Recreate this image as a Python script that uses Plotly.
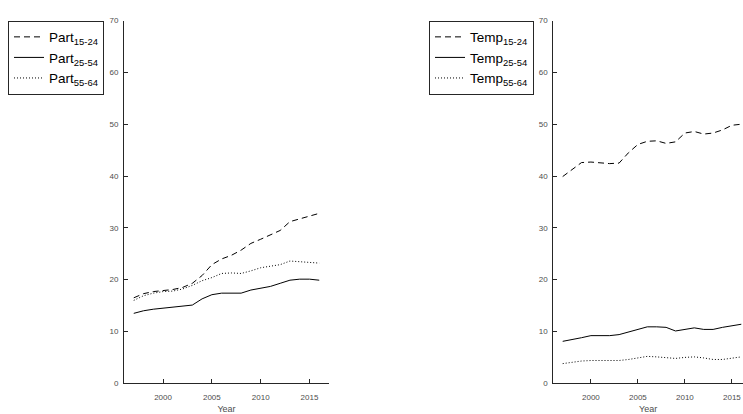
import plotly.graph_objects as go

years = list(range(1997, 2017))

part_15_24 = [16.5, 17.3, 17.7, 17.9, 18.1, 18.5, 19.3, 20.8, 22.9, 24.0, 24.7, 25.7, 27.0, 27.8, 28.6, 29.5, 31.2, 31.7, 32.3, 32.8]
part_25_54 = [13.5, 14.0, 14.3, 14.5, 14.6, 14.8, 15.1, 16.3, 17.1, 17.4, 17.4, 17.4, 18.0, 18.4, 18.7, 19.3, 19.9, 20.1, 20.1, 19.9]
part_55_64 = [16.0, 16.9, 17.4, 17.7, 17.8, 18.2, 18.9, 19.8, 20.4, 21.2, 21.3, 21.2, 21.7, 22.3, 22.6, 22.9, 23.6, 23.5, 23.3, 23.2]

temp_15_24 = [39.9, 41.2, 42.6, 42.7, 42.6, 42.4, 42.5, 44.5, 46.1, 46.7, 46.8, 46.3, 46.6, 48.3, 48.6, 48.1, 48.3, 48.9, 49.8, 50.0]
temp_25_54 = [8.1, 8.4, 8.8, 9.2, 9.2, 9.2, 9.4, 9.9, 10.4, 10.9, 10.9, 10.8, 10.1, 10.4, 10.7, 10.4, 10.4, 10.8, 11.1, 11.4]
temp_55_64 = [3.8, 4.1, 4.3, 4.4, 4.4, 4.5, 4.4, 4.6, 4.9, 5.2, 5.1, 5.0, 4.8, 5.0, 5.1, 4.9, 4.6, 4.6, 4.8, 5.1]

part_names = ["Part<sub>15-24</sub>", "Part<sub>25-54</sub>", "Part<sub>55-64</sub>"]
temp_names = ["Temp<sub>15-24</sub>", "Temp<sub>25-54</sub>", "Temp<sub>55-64</sub>"]
dashes = ["6px,4px", "solid", "1px,2px"]

y_ticks = [0, 10, 20, 30, 40, 50, 60, 70]
x_ticks = [2000, 2005, 2010, 2015]

W, H = 743, 414
fig = go.Figure()

for name, vals, d in zip(part_names, [part_15_24, part_25_54, part_55_64], dashes):
    fig.add_trace(go.Scatter(x=years, y=vals, mode="lines", name=name,
                             line=dict(color="black", width=1, dash=d),
                             xaxis="x", yaxis="y", legend="legend"))
for name, vals, d in zip(temp_names, [temp_15_24, temp_25_54, temp_55_64], dashes):
    fig.add_trace(go.Scatter(x=years, y=vals, mode="lines", name=name,
                             line=dict(color="black", width=1, dash=d),
                             xaxis="x2", yaxis="y2", legend="legend2"))

axis_common = dict(showline=True, linecolor="#262626", linewidth=1, ticks="inside",
                   ticklen=4, tickcolor="#262626", showgrid=False, zeroline=False,
                   tickfont=dict(size=8, color="#4d4d4d", family="Liberation Sans"))

title_font = dict(size=9, color="#4d4d4d", family="Liberation Sans")
ydom = [1 - 388.7 / H, 1 - 17 / H]
fig.update_layout(
    width=W, height=H, margin=dict(l=0, r=0, t=0, b=0),
    plot_bgcolor="white", paper_bgcolor="white",
    font=dict(family="Liberation Sans", color="black"),
    xaxis=dict(domain=[124 / W, 329 / W], range=[1996, 2017], tickvals=x_ticks,
               title=dict(text="Year", font=title_font, standoff=6),
               ticklabelstandoff=6, anchor="y", **axis_common),
    yaxis=dict(domain=ydom, range=[0, 70], tickvals=y_ticks, anchor="x",
               ticklabelstandoff=3, **axis_common),
    xaxis2=dict(domain=[553.3 / W, 1.0], range=[1996, 2016.18], tickvals=x_ticks,
                title=dict(text="Year", font=title_font, standoff=6),
                ticklabelstandoff=6, anchor="y2", **axis_common),
    yaxis2=dict(domain=ydom, range=[0, 70], tickvals=y_ticks, anchor="x2",
                ticklabelstandoff=3, **axis_common),
    legend=dict(x=8 / W, y=1 - 17 / H, xanchor="left", yanchor="top",
                bordercolor="#262626", borderwidth=1, bgcolor="white",
                font=dict(size=13.5, color="black"), itemwidth=30, tracegroupgap=0),
    legend2=dict(x=429 / W, y=1 - 17 / H, xanchor="left", yanchor="top",
                 bordercolor="#262626", borderwidth=1, bgcolor="white",
                 font=dict(size=13.5, color="black"), itemwidth=30, tracegroupgap=0),
    showlegend=True,
)

fig.write_html("out.html")
